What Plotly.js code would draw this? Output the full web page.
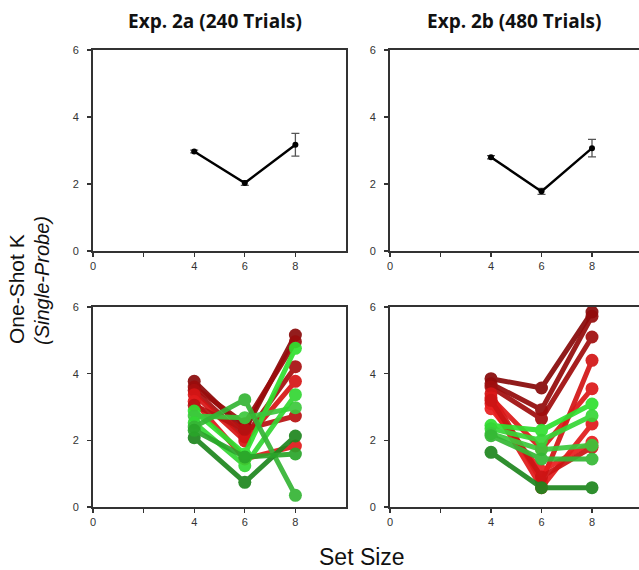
<!DOCTYPE html>
<html>
<head>
<meta charset="utf-8">
<script src="https://cdn.plot.ly/plotly-3.0.1.min.js"></script>
<style>html,body{margin:0;padding:0;background:#fff;}#chart{width:639px;height:570px;}</style>
</head>
<body>
<div id="chart"></div>
<script>
// ---- data ----
const setSizes = [4, 6, 8];
const xTickVals = [0, 2, 4, 6, 8];
const xTickText = ['0', '', '4', '6', '8'];
const yTickVals = [0, 2, 4, 6];

const meanA = [2.97, 2.03, 3.17];
const errA  = [0.04, 0.07, 0.34];
const meanB = [2.80, 1.78, 3.07];
const errB  = [0.05, 0.09, 0.26];

// individual participants, Exp. 2a
const subjA01 = [3.77, 2.30, 5.16];
const subjA02 = [3.60, 2.50, 4.96];
const subjA03 = [3.50, 2.10, 4.21];
const subjA04 = [3.37, 1.98, 3.77];
const subjA05 = [3.17, 1.44, 1.83];
const subjA06 = [3.05, 2.33, 2.73];
const subjA07 = [2.88, 1.59, 4.76];
const subjA08 = [2.73, 2.68, 2.98];
const subjA09 = [2.53, 1.24, 3.37];
const subjA10 = [2.40, 3.22, 0.35];
const subjA11 = [2.08, 0.74, 2.13];
const subjA12 = [2.30, 1.50, 1.59];
const colorsA = ['#8A0A0A', '#9A0C0C', '#A80F0F', '#D61515', '#E01A1A', '#B81111',
                 '#2FE02F', '#3CC83C', '#33D633', '#35B535', '#1E861E', '#2AA52A'];

// individual participants, Exp. 2b
const subjB01 = [3.85, 3.57, 5.85];
const subjB02 = [3.70, 2.92, 5.72];
const subjB03 = [3.60, 2.64, 5.10];
const subjB04 = [3.40, 0.75, 4.40];
const subjB05 = [3.28, 1.74, 3.55];
const subjB06 = [3.10, 0.58, 2.49];
const subjB07 = [2.95, 1.08, 1.94];
const subjB08 = [3.20, 0.90, 1.79];
const subjB09 = [2.45, 2.30, 3.09];
const subjB10 = [2.35, 2.00, 2.74];
const subjB11 = [2.20, 1.72, 1.85];
const subjB12 = [2.14, 1.44, 1.44];
const subjB13 = [1.64, 0.58, 0.58];
const colorsB = ['#870808', '#930A0A', '#A00D0D', '#D21515', '#DC1818', '#E01A1A',
                 '#E81E1E', '#CC1414', '#2FE02F', '#36D636', '#3CC83C', '#35B835', '#1E861E'];

const indivA = [subjA01, subjA02, subjA03, subjA04, subjA05, subjA06,
                subjA07, subjA08, subjA09, subjA10, subjA11, subjA12];
const indivB = [subjB01, subjB02, subjB03, subjB04, subjB05, subjB06, subjB07,
                subjB08, subjB09, subjB10, subjB11, subjB12, subjB13];

// ---- traces ----
const traces = [];
function meanTrace(y, err, xa, ya) {
  return {x: setSizes, y: y, xaxis: xa, yaxis: ya, type: 'scatter', mode: 'lines+markers',
    line: {color: '#000', width: 2.4}, marker: {color: '#000', size: 6},
    error_y: {type: 'data', array: err, visible: true, color: '#555', thickness: 1.3, width: 4},
    showlegend: false, hoverinfo: 'skip'};
}
traces.push(meanTrace(meanA, errA, 'x', 'y'));
traces.push(meanTrace(meanB, errB, 'x2', 'y2'));

function addIndiv(list, colors, xa, ya) {
  for (let i = 0; i < list.length; i++) {
    traces.push({x: setSizes, y: list[i], xaxis: xa, yaxis: ya, type: 'scatter',
      mode: 'lines+markers', line: {color: colors[i], width: 5},
      marker: {color: colors[i], size: 13}, opacity: 0.92, showlegend: false, hoverinfo: 'skip'});
  }
}
addIndiv(indivA, colorsA, 'x3', 'y3');
addIndiv(indivB, colorsB, 'x4', 'y4');

// ---- layout ----
const tickFont = {family: 'Liberation Sans, Arial, sans-serif', size: 11, color: '#333'};
function xAx(domain, range, anchor, mirror) {
  return {domain: domain, range: range, anchor: anchor, tickvals: xTickVals, ticktext: xTickText,
    showgrid: false, zeroline: false, showline: true, linecolor: '#333', linewidth: 2,
    mirror: mirror, ticks: 'outside', ticklen: 4, tickcolor: '#333', tickwidth: 1.2,
    tickfont: tickFont, fixedrange: true};
}
function yAx(domain, anchor, mirror) {
  return {domain: domain, range: [0, 6], anchor: anchor, tickvals: yTickVals,
    showgrid: false, zeroline: false, showline: true, linecolor: '#333', linewidth: 2,
    mirror: mirror, ticks: 'outside', ticklen: 4, tickcolor: '#333', tickwidth: 1.2,
    ticklabelstandoff: 6, tickfont: tickFont, fixedrange: true};
}
const W = 639, H = 570;
const dxL = [93 / W, 346 / W];
const dxR = [390 / W, 1.0];
const dyTop = [(H - 251) / H, (H - 50) / H];
const dyBot = [(H - 507) / H, (H - 307) / H];
const rangeL = [0, 10];
const rangeR = [0, (639 - 390) / 25.25];

const layout = {
  width: W, height: H, margin: {l: 0, r: 0, t: 0, b: 0},
  paper_bgcolor: '#fff', plot_bgcolor: '#fff', showlegend: false,
  xaxis:  xAx(dxL, rangeL, 'y', true),
  yaxis:  yAx(dyTop, 'x', true),
  xaxis2: xAx(dxR, rangeR, 'y2', true),
  yaxis2: yAx(dyTop, 'x2', false),
  xaxis3: xAx(dxL, rangeL, 'y3', true),
  yaxis3: yAx(dyBot, 'x3', true),
  xaxis4: xAx(dxR, rangeR, 'y4', true),
  yaxis4: yAx(dyBot, 'x4', false),
  annotations: [
    {text: '<b>Exp. 2a (240 Trials)</b>', xref: 'paper', yref: 'paper', x: 215 / W, y: (H - 21) / H,
     xanchor: 'center', yanchor: 'middle', showarrow: false,
     font: {family: 'Open Sans, sans-serif', size: 19, color: '#111'}},
    {text: '<b>Exp. 2b (480 Trials)</b>', xref: 'paper', yref: 'paper', x: 514 / W, y: (H - 21) / H,
     xanchor: 'center', yanchor: 'middle', showarrow: false,
     font: {family: 'Open Sans, sans-serif', size: 19, color: '#111'}},
    {text: 'One-Shot K', xref: 'paper', yref: 'paper', x: 16 / W, y: (H - 289) / H,
     xanchor: 'center', yanchor: 'middle', textangle: -90, showarrow: false,
     font: {family: 'Liberation Sans, Arial, sans-serif', size: 21, color: '#111'}},
    {text: '<i>(Single-Probe)</i>', xref: 'paper', yref: 'paper', x: 42 / W, y: (H - 281) / H,
     xanchor: 'center', yanchor: 'middle', textangle: -90, showarrow: false,
     font: {family: 'Liberation Sans, Arial, sans-serif', size: 20, color: '#111'}},
    {text: 'Set Size', xref: 'paper', yref: 'paper', x: 362 / W, y: (H - 557) / H,
     xanchor: 'center', yanchor: 'middle', showarrow: false,
     font: {family: 'Liberation Sans, Arial, sans-serif', size: 23, color: '#111'}}
  ]
};

Plotly.newPlot('chart', traces, layout, {staticPlot: true, displayModeBar: false});
</script>
</body>
</html>
